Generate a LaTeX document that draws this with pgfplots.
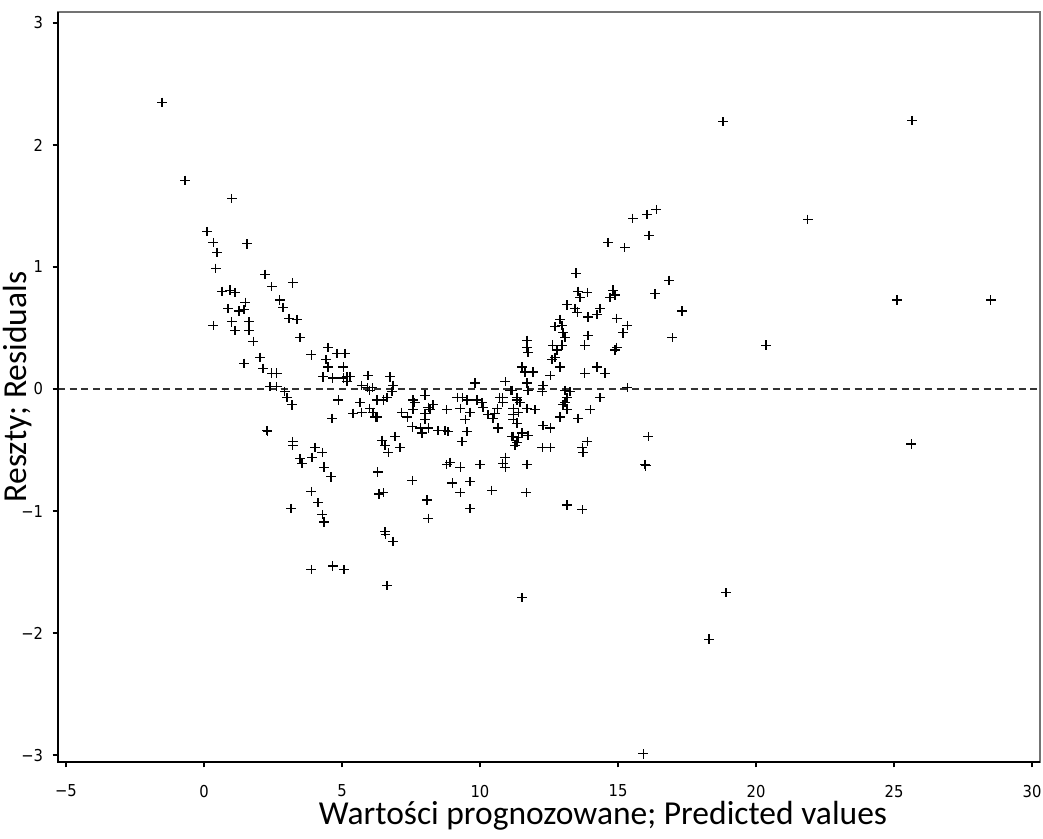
\documentclass[border=0pt]{standalone}
\usepackage{pgfplots}
\pgfplotsset{compat=1.18}
\usepackage{fontspec}
\newfontfamily\labelfont{Carlito}
\newfontfamily\tickfont{DejaVu Sans Condensed}

% residuals vs predicted values
\pgfplotstableread{
x y
-1.52 2.35
-0.69 1.71
1.01 1.56
0.11 1.29
0.33 1.20
0.47 1.12
1.56 1.19
0.43 0.99
2.21 0.94
2.46 0.84
3.22 0.87
0.65 0.80
0.94 0.81
1.12 0.79
1.49 0.71
0.87 0.66
1.27 0.64
1.45 0.65
2.75 0.73
2.86 0.67
3.08 0.58
3.37 0.57
0.33 0.52
1.01 0.55
1.12 0.48
1.63 0.55
1.63 0.48
1.78 0.39
2.03 0.26
3.48 0.42
1.45 0.21
2.14 0.17
2.46 0.13
2.64 0.13
3.88 0.28
4.49 0.34
4.82 0.29
5.11 0.29
4.42 0.24
4.49 0.18
5.04 0.18
4.31 0.10
5.18 0.10
5.94 0.11
6.74 0.10
2.39 0.02
2.64 0.02
2.93 -0.02
3.01 -0.07
3.19 -0.13
4.67 0.09
5.04 0.09
5.18 0.06
5.29 0.10
5.72 0.03
5.91 0.01
6.09 0.01
4.86 -0.09
5.65 -0.11
5.40 -0.20
5.72 -0.19
6.01 -0.16
6.20 -0.23
4.64 -0.24
2.28 -0.34
2.30 -0.35
3.22 -0.43
3.22 -0.46
4.02 -0.48
4.28 -0.52
3.91 -0.56
3.48 -0.57
3.55 -0.61
4.35 -0.64
4.60 -0.72
3.88 -0.84
4.13 -0.93
3.15 -0.98
4.28 -1.03
4.35 -1.09
6.30 -0.68
6.34 -0.86
3.88 -1.48
4.67 -1.45
5.07 -1.48
6.63 -1.61
6.85 0.03
6.81 -0.02
6.01 -0.01
6.27 -0.09
6.49 -0.09
6.63 -0.07
6.12 -0.19
6.27 -0.23
7.17 -0.19
7.36 -0.23
7.57 -0.09
7.64 -0.11
7.57 -0.17
8.01 -0.05
8.12 -0.15
8.01 -0.20
8.01 -0.25
8.30 -0.13
8.19 -0.17
7.54 -0.31
7.83 -0.32
7.90 -0.36
8.12 -0.32
8.48 -0.34
8.73 -0.34
8.84 -0.35
8.80 -0.17
9.17 -0.07
9.38 -0.07
9.53 -0.09
9.28 -0.16
9.46 -0.25
9.53 -0.35
9.35 -0.43
9.82 0.05
9.89 -0.09
10.07 -0.11
10.11 -0.15
9.64 -0.19
10.29 -0.21
10.47 -0.24
10.54 -0.20
10.62 -0.16
10.65 -0.32
10.83 -0.07
10.91 0.06
11.16 -0.01
11.34 -0.09
11.20 -0.21
11.20 -0.39
11.34 -0.44
6.45 -0.42
6.56 -0.46
6.67 -0.52
6.92 -0.39
7.10 -0.48
7.54 -0.75
6.49 -0.85
8.80 -0.62
8.91 -0.60
9.28 -0.64
8.99 -0.77
9.64 -0.76
9.28 -0.85
10.00 -0.62
10.91 -0.56
10.91 -0.64
10.43 -0.83
9.64 -0.98
8.08 -0.91
8.12 -1.06
6.56 -1.17
6.58 -1.19
6.85 -1.25
15.54 1.40
16.05 1.43
16.38 1.47
16.12 1.26
14.64 1.20
15.25 1.16
13.48 0.95
13.55 0.80
13.88 0.79
13.62 0.75
13.15 0.69
13.44 0.66
13.52 0.63
13.91 0.59
14.24 0.61
14.35 0.66
14.71 0.75
14.89 0.77
14.82 0.81
14.96 0.58
15.33 0.52
15.18 0.46
12.90 0.57
12.97 0.52
12.72 0.51
13.01 0.46
13.08 0.42
12.64 0.36
12.97 0.36
12.79 0.32
12.72 0.26
12.61 0.24
13.91 0.44
13.80 0.36
14.96 0.34
14.89 0.32
11.70 0.40
11.70 0.34
11.74 0.30
12.90 0.18
12.54 0.11
11.52 0.18
11.63 0.14
11.92 0.14
13.80 0.13
14.24 0.18
14.53 0.13
11.09 -0.01
11.70 0.05
11.74 -0.01
12.28 0.03
12.25 -0.02
13.08 -0.01
13.26 -0.02
13.15 -0.07
13.08 -0.11
13.01 -0.13
14.35 -0.07
13.99 -0.17
15.33 0.01
13.15 -0.17
12.90 -0.23
13.55 -0.24
10.72 -0.07
10.83 -0.11
11.34 -0.07
11.45 -0.11
11.20 -0.16
11.70 -0.16
11.99 -0.17
11.38 -0.19
11.20 -0.25
11.34 -0.28
12.28 -0.30
12.54 -0.32
11.52 -0.36
11.74 -0.38
11.16 -0.39
11.38 -0.40
11.27 -0.46
12.25 -0.48
12.54 -0.48
13.88 -0.43
13.70 -0.48
13.73 -0.52
16.09 -0.39
10.83 -0.61
11.70 -0.62
15.98 -0.62
16.01 -0.63
11.67 -0.85
13.15 -0.95
13.70 -0.99
11.52 -1.71
18.80 2.19
18.83 2.19
25.65 2.20
21.88 1.39
16.85 0.89
16.34 0.78
17.32 0.64
16.96 0.42
20.36 0.36
25.11 0.73
28.51 0.73
25.62 -0.45
18.91 -1.67
18.30 -2.05
15.91 -2.99
}\resid

\begin{document}
\begin{tikzpicture}
\path[use as bounding box] (0,0) rectangle (15.645cm,12.57cm);
\begin{axis}[
    at={(0.87cm,1.14cm)}, anchor=south west,
    width=14.73cm, height=11.25cm, scale only axis,
    xmin=-5.29, xmax=30.29, ymin=-3.057, ymax=3.09,
    axis line style={draw=black!55, line width=0.5pt},
    xtick={-5,0,5,10,15,20,25,30},
    xticklabels={−5,0,5,10,15,20,25,30},
    ytick={-3,-2,-1,0,1,2,3},
    yticklabels={−3,−2,−1,0,1,2,3},
    xtick pos=left, ytick pos=left,
    tick align=outside,
    major tick length=0.08cm,
    tick style={black, line width=0.6pt},
    tick label style={font=\tickfont\fontsize{7}{8}\selectfont},
    xticklabel style={yshift=-0.14cm},
    yticklabel style={xshift=-0.02cm},
    xlabel={Wartości prognozowane; Predicted values},
    xlabel style={font=\labelfont\fontsize{14.3}{16}\selectfont,
        at={(axis description cs:0.555,0)}, anchor=center, yshift=-0.8cm},
    clip=false,
]
\addplot[black!80, line width=0.5pt, dash pattern=on 3pt off 2pt] coordinates {(-5.29,0) (30.29,0)};
\addplot[only marks, mark=+, mark size=2pt, mark options={line width=0.5pt, black}] table[x=x, y=y] {\resid};
\draw[black, line width=1.2pt] (rel axis cs:0,1) -- (rel axis cs:0,0) -- (rel axis cs:1,0);
% y label set by hand
\node[font=\labelfont\fontsize{14.3}{16}\selectfont, rotate=90, anchor=center]
    at ([xshift=-0.6cm]rel axis cs:0,0.5) {Reszty; Residuals};
\end{axis}
\end{tikzpicture}
\end{document}
